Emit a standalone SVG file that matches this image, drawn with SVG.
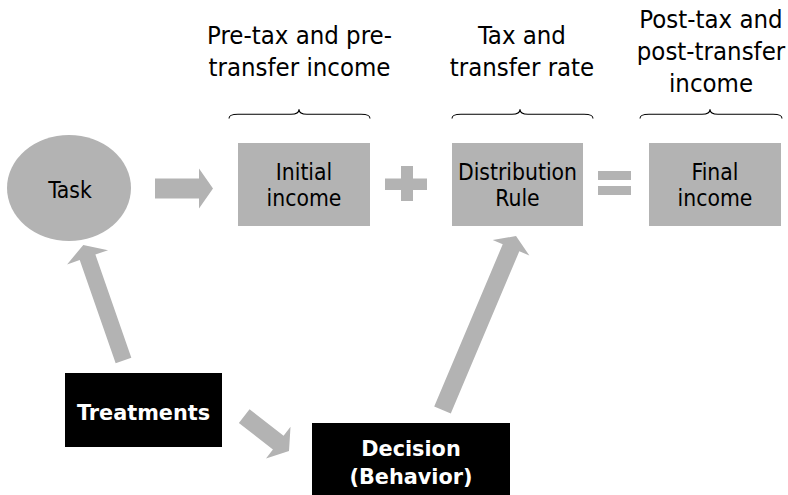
<svg xmlns="http://www.w3.org/2000/svg" width="788" height="495" viewBox="0 0 788 495">
<style>
.g{fill:#b3b3b3}
.k{fill:#000}
.t{font-family:"DejaVu Sans Condensed","DejaVu Sans",sans-serif;font-size:22.7px;text-anchor:middle;fill:#000}
.lbl{font-size:25.5px}
.b{font-family:"DejaVu Sans","Liberation Sans",sans-serif;font-weight:bold;font-size:20.8px;text-anchor:middle;fill:#fff}
.br{fill:none;stroke:#000;stroke-width:1.1}
</style>
<rect width="788" height="495" fill="#fff"/>
<g id="labels">
<text class="t lbl" x="299.5" y="44">Pre-tax and pre-</text>
<text class="t lbl" x="299.5" y="76">transfer income</text>
<text class="t lbl" x="522" y="44">Tax and</text>
<text class="t lbl" x="522" y="76">transfer rate</text>
<text class="t lbl" x="711" y="28">Post-tax and</text>
<text class="t lbl" x="711" y="60">post-transfer</text>
<text class="t lbl" x="711" y="92">income</text>
</g>
<g id="braces">
<path class="br" d="M229,118.5 C229,115.5 231,114.3 238,114.3 L291,114.3 C296,114.3 299,112.5 299,109.3 C299,112.5 302,114.3 307,114.3 L361,114.3 C368,114.3 370,115.5 370,118.5"/>
<path class="br" d="M452,118.5 C452,115.5 454,114.3 461,114.3 L512,114.3 C517,114.3 520,112.5 520,109.3 C520,112.5 523,114.3 528,114.3 L584,114.3 C591,114.3 593,115.5 593,118.5"/>
<path class="br" d="M640,118.5 C640,115.5 642,114.3 649,114.3 L702,114.3 C707,114.3 710,112.5 710,109.3 C710,112.5 713,114.3 718,114.3 L773,114.3 C780,114.3 782,115.5 782,118.5"/>
</g>
<g id="task">
<ellipse class="g" cx="69" cy="188" rx="62" ry="53"/>
<text class="t" x="70" y="198">Task</text>
</g>
<g id="initial">
<rect class="g" x="238" y="143" width="132" height="83"/>
<text class="t" x="304" y="180">Initial</text>
<text class="t" x="304" y="206">income</text>
</g>
<g id="distribution">
<rect class="g" x="452" y="143" width="131" height="83"/>
<text class="t" x="517.5" y="180">Distribution</text>
<text class="t" x="517.5" y="206">Rule</text>
</g>
<g id="final">
<rect class="g" x="649" y="143" width="132" height="83"/>
<text class="t" x="715" y="180">Final</text>
<text class="t" x="715" y="206">income</text>
</g>
<g id="operators">
<rect class="g" x="385" y="178.5" width="42" height="11.5"/>
<rect class="g" x="401" y="166" width="12" height="35"/>
<rect class="g" x="598" y="171" width="33" height="9"/>
<rect class="g" x="598" y="186" width="33" height="9"/>
</g>
<g id="treatments">
<rect class="k" x="65" y="373" width="157" height="74"/>
<text class="b" x="143.5" y="420">Treatments</text>
</g>
<g id="decision">
<rect class="k" x="312" y="423" width="198" height="72"/>
<text class="b" x="411" y="456">Decision</text>
<text class="b" x="411" y="484">(Behavior)</text>
</g>
<g id="connectors" class="g">
<path transform="translate(155,188.5)" d="M0,-10 L44,-10 L44,-20 L58,0 L44,20 L44,10 L0,10 Z"/>
<path transform="translate(123.5,360.5) rotate(-109.2)" d="M0,-8.3 L109.3,-8.3 L109.3,-21.7 L122.3,0 L109.3,21.7 L109.3,8.3 L0,8.3 Z"/>
<path transform="translate(442.5,410) rotate(-67.1)" d="M0,-9 L176.1,-9 L176.1,-19.9 L188.9,0 L176.1,19.9 L176.1,9 L0,9 Z"/>
<path transform="translate(244.2,416.2) rotate(37.8)" d="M0,-8.7 L43.1,-8.7 L43.1,-20 L56.7,0 L43.1,20 L43.1,8.7 L0,8.7 Z"/>
</g>
</svg>
